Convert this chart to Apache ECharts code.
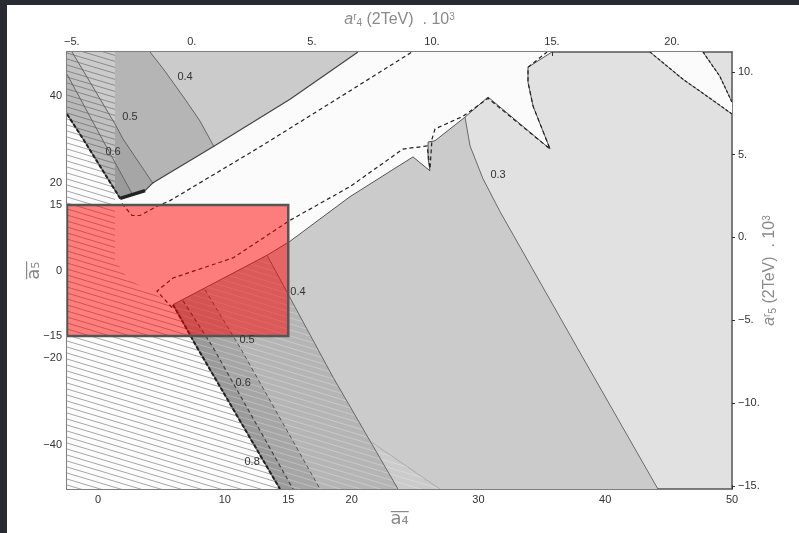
<!DOCTYPE html>
<html>
<head>
<meta charset="utf-8">
<script src="https://cdn.jsdelivr.net/npm/echarts@6/dist/echarts.min.js"></script>
<style>
  html, body { margin: 0; padding: 0; background: #282b31; }
  #chart { position: absolute; left: 7px; top: 5px; width: 792px; height: 528px; background: #fff; }
</style>
</head>
<body>
<div id="chart"></div>
<script>
// tick values of the four axes
const bottomTicks = [0, 10, 15, 20, 30, 40, 50]
const leftTicks = [40, 20, 15, 0, -15, -20, -40]
const topTicks = [-5, 0, 5, 10, 15, 20]
const rightTicks = [10, 5, 0, -5, -10, -15]

// filled zones, in (a4bar, a5bar) units
const zone03 = [[-2.45, 50], [29.34, 50], [28.94, 35.1], [29.34, 28.5], [30.36, 21.0], [31.70, 13.5], [37.78, -17.6], [44.16, -50], [-2.45, -50]]
const zone04 = [[-2.45, 50], [4.10, 50], [5.28, 45.6], [6.86, 39.2], [8.04, 34.2], [9.15, 28.3], [11.20, 16.5], [13.33, 3.5], [18.53, -24.4], [23.66, -50], [-2.45, -50]]
const zone05 = [[-2.45, 50], [-2.05, 50], [1.34, 33.5], [1.97, 30.1], [4.34, 19.9], [6.47, 7.4], [8.44, -4.4], [11.20, -17.6], [17.51, -50], [-2.45, -50]]
const zone06 = [[-2.45, 44.9], [0.32, 30.1], [2.68, 17.6], [4.89, 2.8], [6.70, -6.9], [9.07, -17.6], [15.38, -50], [-2.45, -50]]
const allowedBand = [[-2.45, 35.8], [-1.18, 30.1], [1.74, 16.5], [3.71, 18.3], [4.34, 20.1], [9.07, 28.3], [15.14, 39.2], [20.50, 50],
  [35.80, 50], [33.91, 46.5], [33.91, 43.1], [34.31, 37.6], [35.65, 27.8], [30.76, 39.7], [28.94, 35.1], [26.58, 29.7], [26.03, 29.4],
  [26.03, 25.6], [26.18, 22.8], [24.84, 26.0], [19.87, 16.9], [15.14, 6.7], [13.33, 3.5], [5.91, -7.8], [7.81, -17.6], [14.35, -50], [-2.45, -50]]
const allowedWedge = [[43.53, 50], [46.14, 43.75], [48.03, 39.9], [50, 35.8], [50, 38.5], [49.05, 44.4], [47.71, 50]]
const hatchZoneA = [[-2.45, 50], [1.34, 50], [1.34, 2.4], [2.29, -1.7], [5.91, -7.8], [7.81, -17.6], [14.35, -50], [-2.45, -50]]
const hatchZoneB = [[5.91, -7.8], [14.35, -50], [26.97, -50], [21.53, -39.2], [18.53, -24.4], [13.33, 3.5]]
const redBoxX = [-2.45, 15]
const redBoxY = [-15, 15]

// contour lines
const line03 = [[28.94, 35.1], [29.34, 28.5], [30.36, 21.0], [31.70, 13.5], [37.78, -17.6], [44.16, -50]]
const line04a = [[4.10, 50], [5.28, 45.6], [6.86, 39.2], [8.04, 34.2], [9.15, 28.3]]
const line04b = [[13.33, 3.5], [18.53, -24.4], [23.66, -50]]
const line05a = [[-2.05, 50], [1.34, 33.5], [1.97, 30.1], [4.34, 19.9]]
const line05b = [[8.44, -4.4], [11.20, -17.6], [17.51, -50]]
const line06a = [[-2.45, 44.9], [0.32, 30.1], [2.68, 17.6]]
const line06b = [[6.70, -6.9], [9.07, -17.6], [15.38, -50]]
const edgeA = [[-2.45, 35.8], [-1.18, 30.1], [1.74, 16.5]]
const edgeB = [[5.91, -7.8], [7.81, -17.6], [14.35, -50]]
const spur = [[1.74, 16.5], [3.71, 18.3]]
const bandTop = [[3.71, 18.3], [4.34, 20.1], [9.07, 28.3], [15.14, 39.2], [20.50, 50]]
const bandBottom = [[35.80, 50], [33.91, 46.5], [33.91, 43.1], [34.31, 37.6], [35.65, 27.8], [30.76, 39.7], [28.94, 35.1], [26.58, 29.7],
  [26.03, 29.4], [26.03, 25.6], [26.18, 22.8], [24.84, 26.0], [19.87, 16.9], [15.14, 6.7], [13.33, 3.5], [5.91, -7.8]]
const wedgeLow = [[43.53, 50], [46.14, 43.75], [48.03, 39.9], [50, 35.8]]
const wedgeHigh = [[47.71, 50], [49.05, 44.4], [50, 38.5]]
const hatchEdge = [[21.53, -39.2], [26.97, -50]]
const dashUpper = [[1.89, 15.3], [2.68, 12.6], [3.31, 12.6], [4.65, 14.7], [5.68, 16.0], [12.78, 28.3], [19.09, 39.7], [24.76, 50]]
const dashLower = [[5.84, -8.5], [4.65, -4.7], [5.91, -1.7], [10.65, 2.9], [15.14, 11.5], [19.87, 19.2], [24.05, 27.8], [25.95, 28.5],
  [26.18, 23.3], [26.34, 30.1], [26.58, 32.4], [28.79, 35.3], [30.76, 39.4], [35.65, 27.8], [34.31, 37.6], [33.91, 43.1], [33.91, 46.5], [35.41, 50]]

// contour labels
const labelPos = [[6.86, 44.4], [2.52, 35.1], [1.18, 27.2], [31.55, 21.9], [15.77, -4.9], [11.75, -15.8], [11.44, -25.8], [12.15, -43.75]]
const labelText = ['0.4', '0.5', '0.6', '0.3', '0.4', '0.5', '0.6', '0.8']

function hatch(color, wash) {
  const c = document.createElement('canvas')
  c.width = 60
  c.height = 6
  const g = c.getContext('2d')
  if (wash) {
    g.fillStyle = wash
    g.fillRect(0, 0, 60, 6)
  }
  g.strokeStyle = color
  g.lineWidth = 0.8
  for (let k = -4; k <= 1; k++) {
    g.beginPath()
    g.moveTo(0, k * 6)
    g.lineTo(60, k * 6 + 18)
    g.stroke()
  }
  return c
}

function area(points, style) {
  return {
    type: 'custom', silent: true, clip: true, data: points,
    renderItem(params, api) {
      if (params.dataIndex > 0) return null
      return { type: 'polygon', shape: { points: points.map(p => api.coord(p)) }, style: style }
    }
  }
}

function path(points, stroke, width, dash) {
  return {
    type: 'custom', silent: true, clip: true, data: points,
    renderItem(params, api) {
      if (params.dataIndex > 0) return null
      return {
        type: 'polyline',
        shape: { points: points.map(p => api.coord(p)) },
        style: { stroke: stroke, lineWidth: width, lineDash: dash || null, fill: null }
      }
    }
  }
}

const fmtMinus = v => (v < 0 ? '\u2212' + (-v) : String(v))
const fmtDot = v => fmtMinus(v) + '.'
const tickFont = { color: '#333', fontSize: 11, fontFamily: 'Liberation Sans' }
const titleRich = {
  i: { fontStyle: 'italic', fontSize: 16, color: '#8a8a8a', fontFamily: 'Liberation Sans' },
  r: { fontSize: 10, color: '#8a8a8a', verticalAlign: 'top', fontFamily: 'Liberation Sans' },
  s: { fontSize: 10, color: '#8a8a8a', verticalAlign: 'bottom', fontFamily: 'Liberation Sans' },
  t: { fontSize: 16, color: '#8a8a8a', fontFamily: 'Liberation Sans' },
  p: { fontSize: 10, color: '#8a8a8a', verticalAlign: 'top', fontFamily: 'Liberation Sans' }
}

const chart = echarts.init(document.getElementById('chart'))
chart.setOption({
  animation: false,
  grid: { left: 60, right: 67, top: 47, bottom: 40, show: true, backgroundColor: '#e1e1e1', borderWidth: 0 },
  xAxis: [{
    type: 'value', position: 'bottom', min: -2.45, max: 50,
    name: 'a\u0305\u2084\u0305', nameLocation: 'middle', nameGap: 20,
    nameTextStyle: { color: '#8a8a8a', fontSize: 18, fontFamily: 'DejaVu Sans' },
    axisLine: { onZero: false, lineStyle: { color: '#555', width: 1.5 } },
    axisTick: { inside: true, length: 4, customValues: bottomTicks, lineStyle: { color: '#333' } },
    axisLabel: Object.assign({ customValues: bottomTicks, margin: 5 }, tickFont),
    splitLine: { show: false }
  }, {
    type: 'value', position: 'top', min: -5.2, max: 22.5,
    name: '{i|a}{r|r}{s|4}{t| (2TeV)  . 10}{p|3}', nameLocation: 'middle', nameGap: 24,
    nameTextStyle: { rich: titleRich },
    axisLine: { onZero: false, lineStyle: { color: '#555', width: 1.5 } },
    axisTick: { inside: true, length: 4, customValues: topTicks, lineStyle: { color: '#333' } },
    axisLabel: Object.assign({ customValues: topTicks, formatter: fmtDot, margin: 5 }, tickFont),
    splitLine: { show: false }
  }],
  yAxis: [{
    type: 'value', position: 'left', min: -50, max: 50,
    name: 'a\u0305\u2085\u0305', nameLocation: 'middle', nameGap: 24, nameMoveOverlap: false,
    nameTextStyle: { color: '#8a8a8a', fontSize: 18, fontFamily: 'DejaVu Sans' },
    axisLine: { onZero: false, lineStyle: { color: '#555', width: 1.5 } },
    axisTick: { inside: true, length: 4, customValues: leftTicks, lineStyle: { color: '#333' } },
    axisLabel: Object.assign({ customValues: leftTicks, formatter: fmtMinus, margin: 5 }, tickFont),
    splitLine: { show: false }
  }, {
    type: 'value', position: 'right', min: -15.2, max: 11.2,
    name: '{i|a}{r|r}{s|5}{t| (2TeV)  . 10}{p|3}', nameLocation: 'middle', nameGap: 30, nameMoveOverlap: false,
    nameTextStyle: { rich: titleRich },
    axisLine: { onZero: false, lineStyle: { color: '#555', width: 1.5 } },
    axisTick: { inside: false, length: 3, customValues: rightTicks, lineStyle: { color: '#333' } },
    axisLabel: Object.assign({ customValues: rightTicks, formatter: fmtDot, margin: 6 }, tickFont),
    splitLine: { show: false }
  }],
  series: [
    area(zone03, { fill: '#cbcbcb' }),
    area(zone04, { fill: '#b5b5b5' }),
    area(zone05, { fill: '#a6a6a6' }),
    area(zone06, { fill: '#9a9a9a' }),
    area(allowedBand, { fill: '#fbfbfb' }),
    area(allowedWedge, { fill: '#fbfbfb' }),
    area(hatchZoneB, { fill: { image: hatch('rgba(255,255,255,0.35)'), repeat: 'repeat' } }),
    area(hatchZoneA, { fill: { image: hatch('rgba(70,70,70,0.6)', 'rgba(255,255,255,0.3)'), repeat: 'repeat' } }),
    path(line03, '#6a6a6a', 1),
    path(line04a, '#666', 1),
    path(line04b, '#666', 1),
    path(line05a, '#666', 1),
    path(line05b, '#555', 1, [4, 3]),
    path(line06a, '#666', 1),
    path(line06b, '#444', 1.2, [4, 3]),
    path(edgeA, '#555', 1.2),
    path(edgeA, '#222', 2, [4, 2]),
    path(edgeB, '#555', 1.2),
    path(edgeB, '#222', 2, [4, 2]),
    path(spur, '#222', 3.5),
    path(bandTop, '#444', 1.2),
    path(bandBottom, '#555', 1),
    path(wedgeLow, '#777', 1),
    path(wedgeLow, '#222', 1.2, [3, 2]),
    path(wedgeHigh, '#777', 1),
    path(wedgeHigh, '#222', 1.2, [3, 2]),
    path(hatchEdge, 'rgba(150,150,150,0.6)', 1),
    path(dashUpper, '#222', 1.2, [4, 3]),
    path(dashLower, '#222', 1.2, [4, 3]),
    {
      type: 'custom', silent: true, clip: true, data: [[redBoxX[0], redBoxY[1]]],
      renderItem(params, api) {
        const a = api.coord([redBoxX[0], redBoxY[1]])
        const b = api.coord([redBoxX[1], redBoxY[0]])
        return {
          type: 'rect',
          shape: { x: a[0], y: a[1], width: b[0] - a[0], height: b[1] - a[1] },
          style: { fill: 'rgba(255,0,0,0.5)', stroke: '#555', lineWidth: 2.5 }
        }
      }
    },
    {
      type: 'custom', silent: true, data: labelPos,
      renderItem(params, api) {
        const p = api.coord(labelPos[params.dataIndex])
        return {
          type: 'text', x: p[0], y: p[1],
          style: { text: labelText[params.dataIndex], fill: '#333', font: '11px "Liberation Sans"', align: 'center', verticalAlign: 'middle' }
        }
      }
    }
  ]
})
</script>
</body>
</html>
